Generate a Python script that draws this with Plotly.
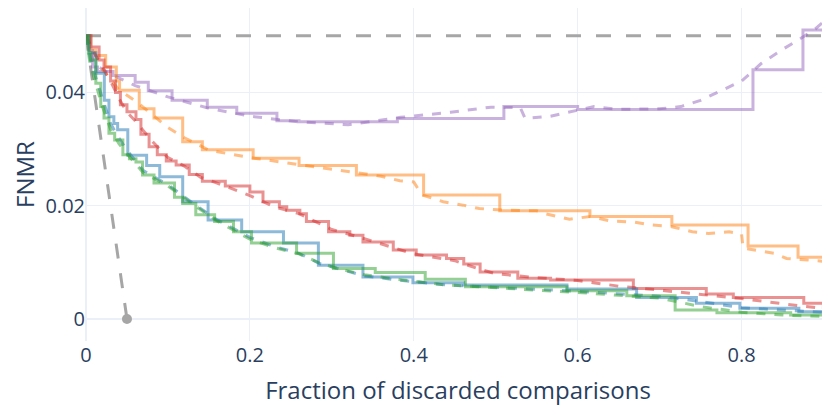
import plotly.graph_objects as go

# ---- data ----
purple_x = [0, 0.004, 0.008, 0.014, 0.033, 0.06, 0.076, 0.105, 0.148, 0.184, 0.233, 0.26, 0.38, 0.51, 0.60, 0.814, 0.875, 0.91]
purple_y = [0.050, 0.0474, 0.0445, 0.0437, 0.043, 0.0418, 0.0403, 0.0386, 0.0374, 0.0363, 0.035, 0.0348, 0.0354, 0.0375, 0.037, 0.044, 0.051, 0.051]
purple_dx = [0, 0.01, 0.03, 0.06, 0.1, 0.15, 0.2, 0.26, 0.32, 0.384, 0.445, 0.494, 0.53, 0.536, 0.567, 0.6, 0.62, 0.65, 0.7, 0.726, 0.75, 0.775, 0.8, 0.824, 0.848, 0.872, 0.89, 0.909]
purple_dy = [0.050, 0.045, 0.0432, 0.0412, 0.0392, 0.0372, 0.0358, 0.0348, 0.0343, 0.0356, 0.0365, 0.0374, 0.0373, 0.0354, 0.0358, 0.0368, 0.0375, 0.037, 0.0371, 0.0375, 0.0386, 0.0403, 0.042, 0.0451, 0.0474, 0.0495, 0.0512, 0.0536]

orange_x = [0, 0.006, 0.012, 0.024, 0.037, 0.041, 0.065, 0.083, 0.118, 0.142, 0.204, 0.26, 0.33, 0.412, 0.505, 0.615, 0.715, 0.808, 0.869, 0.91]
orange_y = [0.050, 0.0475, 0.0465, 0.0445, 0.042, 0.0404, 0.0371, 0.0355, 0.0313, 0.0299, 0.0284, 0.0271, 0.0254, 0.0219, 0.0191, 0.0181, 0.0166, 0.0129, 0.0109, 0.0109]
orange_dx = [0, 0.02, 0.04, 0.06, 0.08, 0.1, 0.12, 0.15, 0.2, 0.25, 0.3, 0.36, 0.383, 0.4, 0.41, 0.436, 0.46, 0.48, 0.51, 0.55, 0.56, 0.59, 0.615, 0.64, 0.67, 0.69, 0.715, 0.74, 0.76, 0.785, 0.8, 0.802, 0.84, 0.855, 0.908]
orange_dy = [0.050, 0.044, 0.0405, 0.0385, 0.0362, 0.0338, 0.032, 0.0298, 0.0285, 0.0275, 0.0265, 0.0252, 0.0244, 0.0242, 0.0219, 0.0207, 0.0201, 0.0195, 0.0192, 0.0191, 0.0186, 0.0176, 0.0181, 0.0173, 0.0171, 0.0166, 0.0163, 0.0154, 0.0151, 0.0154, 0.015, 0.0125, 0.0116, 0.0107, 0.0101]

red_x = [0, 0.006, 0.016, 0.022, 0.03, 0.036, 0.042, 0.05, 0.061, 0.067, 0.077, 0.087, 0.098, 0.11, 0.126, 0.142, 0.17, 0.2, 0.216, 0.236, 0.245, 0.261, 0.269, 0.296, 0.322, 0.338, 0.375, 0.403, 0.44, 0.461, 0.481, 0.527, 0.567, 0.668, 0.757, 0.79, 0.876, 0.9, 0.91]
red_y = [0.050, 0.048, 0.0457, 0.0445, 0.042, 0.040, 0.0378, 0.0366, 0.0352, 0.0326, 0.0304, 0.029, 0.0279, 0.0272, 0.0255, 0.0243, 0.0235, 0.0224, 0.0207, 0.0198, 0.0192, 0.0186, 0.0172, 0.0154, 0.0148, 0.0136, 0.0122, 0.0113, 0.0107, 0.0097, 0.0083, 0.0072, 0.0069, 0.0054, 0.0044, 0.0038, 0.0028, 0.002, 0.002]
red_dx = [0, 0.01, 0.02, 0.03, 0.04, 0.05, 0.06, 0.08, 0.1, 0.12, 0.14, 0.16, 0.2, 0.23, 0.26, 0.28, 0.3, 0.33, 0.36, 0.4, 0.45, 0.48, 0.5, 0.55, 0.6, 0.65, 0.7, 0.75, 0.8, 0.85, 0.91]
red_dy = [0.050, 0.047, 0.0445, 0.042, 0.039, 0.0365, 0.035, 0.0315, 0.0285, 0.027, 0.025, 0.024, 0.0218, 0.0198, 0.0186, 0.0172, 0.0158, 0.0146, 0.0133, 0.0115, 0.0103, 0.0088, 0.008, 0.0073, 0.0068, 0.0058, 0.0051, 0.0044, 0.0036, 0.0027, 0.0017]

blue_x = [0, 0.004, 0.012, 0.0224, 0.028, 0.034, 0.0386, 0.051, 0.074, 0.09, 0.118, 0.149, 0.19, 0.241, 0.2836, 0.338, 0.399, 0.461, 0.587, 0.672, 0.745, 0.798, 0.87, 0.91]
blue_y = [0.050, 0.047, 0.0434, 0.0386, 0.0357, 0.0345, 0.0334, 0.0289, 0.0271, 0.0251, 0.0207, 0.0175, 0.0154, 0.0134, 0.0095, 0.0074, 0.0064, 0.006, 0.0053, 0.0038, 0.0028, 0.0019, 0.0013, 0.0013]
blue_dx = [0, 0.005, 0.01, 0.02, 0.03, 0.04, 0.05, 0.07, 0.1, 0.13, 0.16, 0.2, 0.23, 0.26, 0.285, 0.31, 0.34, 0.38, 0.44, 0.5, 0.6, 0.7, 0.75, 0.8, 0.85, 0.91]
blue_dy = [0.050, 0.046, 0.0435, 0.039, 0.0345, 0.032, 0.0298, 0.0262, 0.0237, 0.0205, 0.0175, 0.0144, 0.0128, 0.0116, 0.0098, 0.0088, 0.0076, 0.0069, 0.006, 0.0056, 0.0049, 0.004, 0.0031, 0.002, 0.0016, 0.0011]

green_x = [0, 0.003, 0.006, 0.012, 0.018, 0.022, 0.028, 0.035, 0.045, 0.053, 0.061, 0.069, 0.083, 0.108, 0.118, 0.134, 0.157, 0.18, 0.202, 0.257, 0.302, 0.353, 0.414, 0.463, 0.587, 0.66, 0.719, 0.77, 0.86, 0.91]
green_y = [0.050, 0.047, 0.0457, 0.0416, 0.0375, 0.0355, 0.0328, 0.0316, 0.029, 0.0283, 0.0277, 0.0254, 0.024, 0.0215, 0.0204, 0.0184, 0.0172, 0.0154, 0.0134, 0.0116, 0.0089, 0.0082, 0.007, 0.0057, 0.005, 0.0041, 0.0016, 0.0011, 0.0007, 0.0007]
green_dx = [0, 0.005, 0.01, 0.02, 0.03, 0.04, 0.05, 0.07, 0.1, 0.13, 0.16, 0.2, 0.23, 0.26, 0.285, 0.31, 0.34, 0.38, 0.44, 0.5, 0.6, 0.7, 0.75, 0.8, 0.85, 0.91]
green_dy = [0.050, 0.045, 0.0425, 0.0375, 0.0335, 0.031, 0.0292, 0.0258, 0.0235, 0.0203, 0.0173, 0.0141, 0.0126, 0.0115, 0.0099, 0.0088, 0.0078, 0.0070, 0.0060, 0.0055, 0.0047, 0.0037, 0.0022, 0.0012, 0.0007, 0.0004]

ref_x = [0, 0.91]
ref_y = [0.05, 0.05]
oracle_x = [0, 0.05]
oracle_y = [0.05, 0]

GREY = "#a6a6a6"
series = [
    ("purple", "#9467bd", purple_x, purple_y, purple_dx, purple_dy),
    ("orange", "#ff7f0e", orange_x, orange_y, orange_dx, orange_dy),
    ("red", "#d62728", red_x, red_y, red_dx, red_dy),
    ("blue", "#1f77b4", blue_x, blue_y, blue_dx, blue_dy),
    ("green", "#2ca02c", green_x, green_y, green_dx, green_dy),
]

fig = go.Figure()
fig.add_trace(go.Scatter(x=ref_x, y=ref_y, mode="lines",
                         line=dict(color=GREY, width=3, dash="longdash"), showlegend=False))
fig.add_trace(go.Scatter(x=oracle_x, y=oracle_y, mode="lines",
                         line=dict(color=GREY, width=3, dash="longdash"), showlegend=False))
fig.add_trace(go.Scatter(x=oracle_x[1:], y=oracle_y[1:], mode="markers",
                         marker=dict(color=GREY, size=10), showlegend=False))

for name, col, sx, sy, dx, dy in series:
    fig.add_trace(go.Scatter(x=sx, y=sy, mode="lines", line_shape="hv",
                             line=dict(color=col, width=3), opacity=0.5, showlegend=False))
    fig.add_trace(go.Scatter(x=dx, y=dy, mode="lines",
                             line=dict(color=col, width=3, dash="dash"), opacity=0.5, showlegend=False))

fig.update_layout(
    template="plotly_white",
    width=822, height=407,
    margin=dict(l=78, r=0, t=0, b=74, autoexpand=False),
    font=dict(size=20, color="#2a3f5f"),
    showlegend=False,
)
fig.update_xaxes(range=[0, 0.908], title_text="Fraction of discarded comparisons",
                 tickvals=[0, 0.2, 0.4, 0.6, 0.8], ticktext=["0", "0.2", "0.4", "0.6", "0.8"])
fig.update_yaxes(range=[-0.00388, 0.0549], title_text="FNMR",
                 tickvals=[0, 0.02, 0.04], ticktext=["0", "0.02", "0.04"])

fig.write_html("out.html")
